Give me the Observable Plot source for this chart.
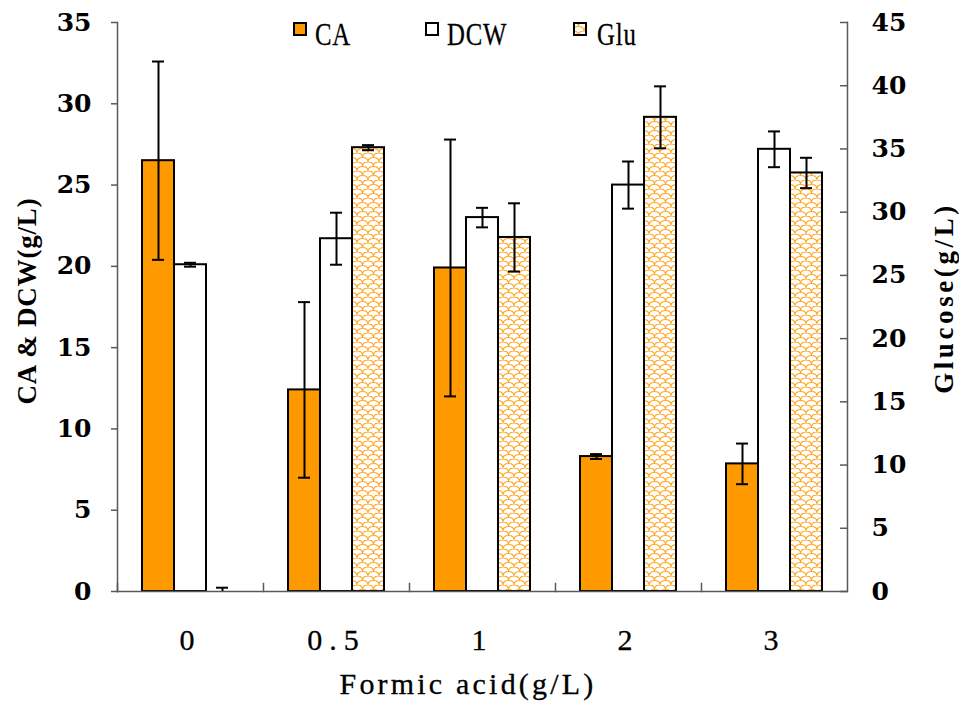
<!DOCTYPE html>
<html>
<head>
<meta charset="utf-8">
<script src="https://cdn.jsdelivr.net/npm/d3@7"></script>
<script src="https://cdn.jsdelivr.net/npm/@observablehq/plot@0.6"></script>
<style>
  body { margin: 0; background: #fff; }
  #chart { position: relative; width: 959px; height: 702px; overflow: hidden; background: #fff; }
  .txt { position: absolute; font-family: "Liberation Serif", serif; color: #000; white-space: pre; line-height: 1; }
  .ytitle-l { font-size: 27px; font-weight: bold; letter-spacing: 0.8px; }
  .ytitle-r { font-size: 27px; font-weight: bold; letter-spacing: 3.6px; }
  .xtitle { font-size: 30px; letter-spacing: 3.2px; -webkit-text-stroke: 0.3px #000; }
  .legtext { font-size: 31px; letter-spacing: 1px; -webkit-text-stroke: 0.3px #000; }
  .swatch { position: absolute; width: 14px; height: 14px; }
</style>
</head>
<body>
<svg width="0" height="0" style="position:absolute">
  <defs>
    <!-- orange shingle fill used by the glucose bars -->
    <pattern id="shingle" width="11" height="9" patternUnits="userSpaceOnUse">
      <rect width="11" height="9" fill="#fff"/>
      <path d="M0,9 Q0,4.5 5.5,4.5 Q11,4.5 11,9 M-5.5,4.5 Q-5.5,0 0,0 Q5.5,0 5.5,4.5 M5.5,4.5 Q5.5,0 11,0 Q16.5,0 16.5,4.5"
            fill="none" stroke="#FFA31A" stroke-width="1.1"/>
    </pattern>
  </defs>
</svg>
<div id="chart"></div>
<script>
// Formic acid concentrations (g/L) on the x axis
const groups = ["0", "0.5", "1", "2", "3"];
const seriesNames = ["CA", "DCW", "Glu"];

// CA and DCW (g/L, left axis)
const caValues  = [26.5, 12.4, 19.9, 8.3, 7.85];
const caErrors  = [6.1, 5.4, 7.9, 0.15, 1.25];
const dcwValues = [20.1, 21.7, 23.0, 25.0, 27.2];
const dcwErrors = [0.12, 1.6, 0.6, 1.45, 1.1];

// Residual glucose (g/L, right axis)
const gluValues = [0, 35.1, 28.0, 37.5, 33.1];
const gluErrors = [0.3, 0.2, 2.7, 2.45, 1.2];

// Axis ticks
const leftTicks  = [0, 5, 10, 15, 20, 25, 30, 35];
const rightTicks = [0, 5, 10, 15, 20, 25, 30, 35, 40, 45];

const leftMax = 35, rightMax = 45;
const k = leftMax / rightMax; // glucose units -> left-axis units

const fillOf = {CA: "#FF9900", DCW: "#FFFFFF", Glu: "url(#shingle)"};

const rows = groups.flatMap((g, i) => [
  {group: g, series: "CA",  value: caValues[i],  err: caErrors[i],  f: 1},
  {group: g, series: "DCW", value: dcwValues[i], err: dcwErrors[i], f: 1},
  {group: g, series: "Glu", value: gluValues[i], err: gluErrors[i], f: k}
]);

const lo = d => (d.value - d.err) * d.f;
const hi = d => (d.value + d.err) * d.f;
const axisColor = "#595959";
const tickFont = {fontFamily: "DejaVu Serif", fontWeight: "bold", fontSize: 25};

const plot = Plot.plot({
  width: 959,
  height: 702,
  marginTop: 22,
  marginRight: 110,
  marginBottom: 111,
  marginLeft: 115,
  style: {background: "#fff", color: "#000", overflow: "visible"},
  fx: {domain: groups, padding: 0},
  x: {domain: seriesNames, paddingInner: 0, paddingOuter: 0.75, axis: null},
  y: {domain: [0, leftMax], axis: null},
  color: {type: "identity"},
  marks: [
    Plot.barY(rows, {
      fx: "group", x: "series", y: d => d.value * d.f,
      fill: d => fillOf[d.series], stroke: "#000", strokeWidth: 2
    }),
    Plot.ruleX(rows, {fx: "group", x: "series", y1: lo, y2: hi, stroke: "#000", strokeWidth: 2, clip: true}),
    Plot.tickY(rows, {fx: "group", x: "series", y: lo, insetLeft: 10, insetRight: 10, stroke: "#000", strokeWidth: 2, clip: true}),
    Plot.tickY(rows, {fx: "group", x: "series", y: hi, insetLeft: 10, insetRight: 10, stroke: "#000", strokeWidth: 2, clip: true}),
    // x axis line and short ticks between formic acid groups
    Plot.ruleY([0], {stroke: axisColor, strokeWidth: 1.5}),
    Plot.frame({anchor: "left", insetTop: 561, stroke: axisColor, strokeWidth: 1.5}),
    // left and right axis lines
    Plot.frame({anchor: "left", facetAnchor: "left", stroke: axisColor, strokeWidth: 1.5}),
    Plot.frame({anchor: "right", facetAnchor: "right", stroke: axisColor, strokeWidth: 1.5}),
    Plot.axisY({
      anchor: "left", ticks: leftTicks, tickSize: 6, tickPadding: 20,
      stroke: axisColor, strokeWidth: 1.5, ...tickFont, label: null
    }),
    Plot.axisY({
      anchor: "right", ticks: rightTicks.map(t => t * k),
      tickFormat: d => String(Math.round(d / k)),
      tickSize: -8, tickPadding: 32,
      stroke: axisColor, strokeWidth: 1.5, ...tickFont, label: null
    }),
    Plot.axisFx({
      anchor: "bottom", tickSize: 0, tickPadding: 37, label: null,
      fontFamily: "Liberation Serif", fontSize: 30
    })
  ]
});

d3.select(plot).selectAll('[aria-label="fx-axis tick label"] text')
  .style("letter-spacing", "7px")
  .style("stroke", "#000")
  .style("stroke-width", "0.3px");

const chart = document.getElementById("chart");
chart.appendChild(plot);

// Axis titles
function addText(text, cls, css) {
  const el = document.createElement("div");
  el.className = "txt " + cls;
  el.textContent = text;
  Object.assign(el.style, css);
  chart.appendChild(el);
  return el;
}
addText("CA & DCW(g/L)", "ytitle-l", {left: "27px", top: "301px", transform: "translate(-50%,-50%) rotate(-90deg)"});
addText("Glucose(g/L)", "ytitle-r", {left: "944px", top: "298px", transform: "translate(-50%,-50%) rotate(-90deg)"});
addText("Formic acid(g/L)", "xtitle", {left: "468px", top: "684px", transform: "translate(-50%,-50%)"});

// Legend
const legendPos = {CA: [293, 315], DCW: [425, 447], Glu: [573, 597]};
seriesNames.forEach(name => {
  const [sx, tx] = legendPos[name];
  const sw = document.createElementNS("http://www.w3.org/2000/svg", "svg");
  sw.setAttribute("class", "swatch");
  sw.setAttribute("width", 14);
  sw.setAttribute("height", 14);
  sw.style.left = sx + "px";
  sw.style.top = "22px";
  const r = document.createElementNS("http://www.w3.org/2000/svg", "rect");
  r.setAttribute("x", 1); r.setAttribute("y", 1);
  r.setAttribute("width", 12); r.setAttribute("height", 12);
  r.setAttribute("fill", fillOf[name]);
  r.setAttribute("stroke", "#000");
  r.setAttribute("stroke-width", 2);
  sw.appendChild(r);
  chart.appendChild(sw);
  addText(name, "legtext", {left: tx + "px", top: "34px", transformOrigin: "left center", transform: "translateY(-50%) scaleX(0.8)"});
});
</script>
</body>
</html>
